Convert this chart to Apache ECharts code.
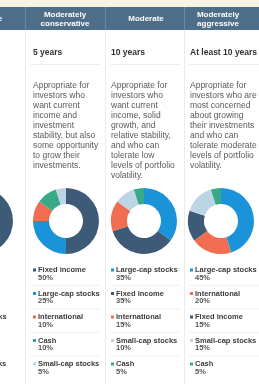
<!DOCTYPE html>
<html>
<head>
<meta charset="utf-8">
<script src="https://cdn.jsdelivr.net/npm/echarts@6/dist/echarts.min.js"></script>
<style>
  html, body { margin: 0; padding: 0; background: #fff; }
  #main { width: 259px; height: 384px; }
</style>
</head>
<body>
<div id="main"></div>
<script>
// one entry per column, the first one is only partly visible
const profiles = ["Conservative", "Moderately\nconservative", "Moderate", "Moderately\naggressive"];
const horizons = ["", "5 years", "10 years", "At least 10 years"];
const descriptions = [
  "",
  "Appropriate for\ninvestors who\nwant current\nincome and\ninvestment\nstability, but also\nsome opportunity\nto grow their\ninvestments.",
  "Appropriate for\ninvestors who\nwant current\nincome, solid\ngrowth, and\nrelative stability,\nand who can\ntolerate low\nlevels of portfolio\nvolatility.",
  "Appropriate for\ninvestors who are\nmost concerned\nabout growing\ntheir investments\nand who can\ntolerate moderate\nlevels of portfolio\nvolatility.",
];
const assetNames = [
  ["Fixed income", "Cash", "Large-cap stocks", "International", "Small-cap stocks"],
  ["Fixed income", "Large-cap stocks", "International", "Cash", "Small-cap stocks"],
  ["Large-cap stocks", "Fixed income", "International", "Small-cap stocks", "Cash"],
  ["Large-cap stocks", "International", "Fixed income", "Small-cap stocks", "Cash"],
];
const assetValues = [
  [50, 30, 15, 5, 0],
  [50, 25, 10, 10, 5],
  [35, 35, 15, 10, 5],
  [45, 20, 15, 15, 5],
];

const assetColors = {
  "Fixed income": "#3d5a76",
  "Large-cap stocks": "#1b93d8",
  "International": "#f06d51",
  "Cash": "#3aa98a",
  "Small-cap stocks": "#bcd5e4",
};

var chartDom = document.getElementById("main");
var myChart = echarts.init(chartDom);

// layout
const colLeft = [-55, 25, 105, 184];
const textLeft = [-60, 33, 111, 190];
const headCenter = [-23, 65, 146, 218];
const pieX = [-20, 66, 144, 221];
const pieY = 221;
const font = "'Liberation Sans', Arial, sans-serif";

var graphics = [];
// top strip and header band
graphics.push({ type: "rect", shape: { x: 0, y: 0, width: 259, height: 7 }, style: { fill: "#f7f3e3" } });
graphics.push({ type: "rect", shape: { x: 0, y: 7, width: 259, height: 23 }, style: { fill: "#4d6d89" } });

colLeft.forEach(function (x, i) {
  if (i > 0) {
    graphics.push({ type: "line", shape: { x1: x + 0.5, y1: 7, x2: x + 0.5, y2: 30 }, style: { stroke: "#6e8aa3", lineWidth: 1 } });
    graphics.push({ type: "line", shape: { x1: x + 0.5, y1: 30, x2: x + 0.5, y2: 384 }, style: { stroke: "#ececec", lineWidth: 1 } });
  }
});

profiles.forEach(function (p, i) {
  graphics.push({
    type: "text",
    style: {
      text: p, x: headCenter[i], y: 19,
      fill: "#ffffff", font: "bold 8px " + font,
      textAlign: "center", textVerticalAlign: "middle", lineHeight: 9,
    },
  });
  graphics.push({
    type: "text",
    style: {
      text: horizons[i], x: textLeft[i], y: 53,
      fill: "#333333", font: "bold 8.5px " + font,
      textAlign: "left", textVerticalAlign: "middle",
    },
  });
  if (i > 0) {
    graphics.push({ type: "line", shape: { x1: colLeft[i] + 5, y1: 64.5, x2: colLeft[i] + 75, y2: 64.5 }, style: { stroke: "#eeeeee", lineWidth: 1 } });
  }
  graphics.push({
    type: "text",
    style: {
      text: descriptions[i], x: textLeft[i], y: 81,
      fill: "#5a5a5a", font: "8.5px " + font,
      textAlign: "left", textVerticalAlign: "top", lineHeight: 10,
    },
  });
  // legend list
  assetNames[i].forEach(function (name, k) {
    var y = 270 + k * 23.5;
    graphics.push({ type: "rect", shape: { x: textLeft[i], y: y - 1.5, width: 3, height: 3 }, style: { fill: assetColors[name] } });
    graphics.push({
      type: "text",
      style: { text: name, x: textLeft[i] + 5, y: y, fill: "#3a3a3a", font: "bold 7.5px " + font, textAlign: "left", textVerticalAlign: "middle" },
    });
    graphics.push({
      type: "text",
      style: { text: assetValues[i][k] + "%", x: textLeft[i] + 5, y: y + 7.5, fill: "#555555", font: "bold 7.5px " + font, textAlign: "left", textVerticalAlign: "middle" },
    });
    if (k < 4 && i > 0) {
      graphics.push({ type: "line", shape: { x1: colLeft[i] + 5, y1: y + 15.5, x2: colLeft[i] + 75, y2: y + 15.5 }, style: { stroke: "#f0f0f0", lineWidth: 1 } });
    }
  });
});

var series = assetValues.map(function (vals, i) {
  return {
    type: "pie",
    silent: true,
    center: [pieX[i], pieY],
    radius: [17, 33],
    startAngle: 90,
    clockwise: true,
    label: { show: false },
    labelLine: { show: false },
    itemStyle: { borderWidth: 0 },
    data: vals.map(function (v, k) {
      return { name: assetNames[i][k], value: v, itemStyle: { color: assetColors[assetNames[i][k]] } };
    }),
  };
});

var option = {
  animation: false,
  backgroundColor: "#ffffff",
  graphic: graphics,
  series: series,
};

option && myChart.setOption(option);
</script>
</body>
</html>
